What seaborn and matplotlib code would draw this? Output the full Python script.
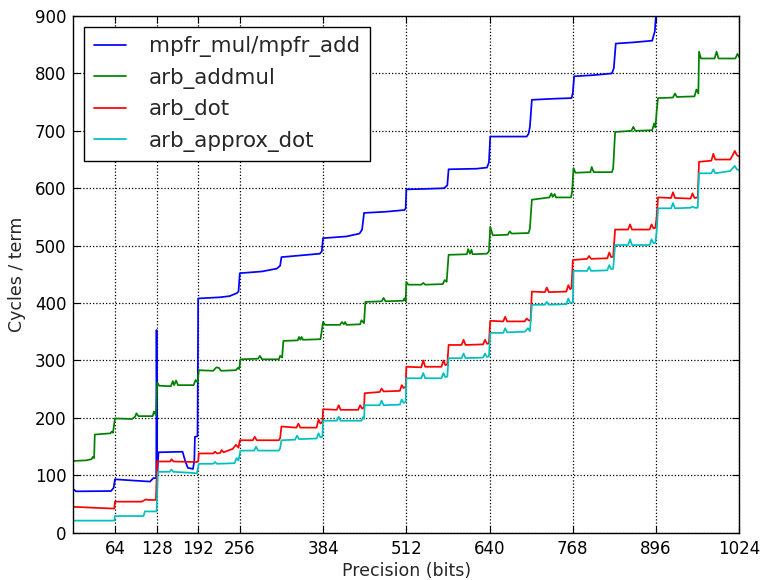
import pandas as pd
import matplotlib
matplotlib.use("Agg")
import matplotlib.pyplot as plt
import seaborn as sns

# --------------------- data ---------------------
# points along each curve: precision (bits) and cycles per term
mpfr_bits = [1, 4, 58, 62, 64, 90, 118, 123, 127.5, 128, 129, 131, 168, 172, 176, 184, 186,
             187, 191, 192, 225, 240, 251, 254, 256, 290, 313, 318, 320, 350, 379, 382, 384,
             420, 440, 444, 447, 480, 509, 511, 512, 545, 570, 575, 577, 620, 636, 639, 641,
             670, 697, 700, 702, 705, 740, 766, 768, 770, 800, 828, 831, 834, 860, 890, 894, 896]
mpfr_cycles = [75, 72, 72.5, 78, 93, 91, 89, 95, 95, 353, 100, 140, 141, 125, 113, 111, 125,
               167, 168, 408, 410, 412, 417, 420, 452, 455, 460, 465, 480, 483, 486, 490, 513,
               516, 521, 528, 557, 559, 562, 565, 598, 599, 600, 605, 633, 634, 636, 645, 690,
               690, 690, 695, 707, 754, 756, 757, 766, 795, 797, 800, 809, 852, 854, 857, 873, 905]

addmul_bits = [1, 20, 28, 30, 32, 33, 45, 57, 59, 61, 64, 90, 95, 97, 100, 122, 124, 127, 129,
               132, 150, 153, 155, 158, 161, 185, 188, 191, 193, 215, 220, 224, 227, 250, 253,
               255, 257, 284, 287, 290, 316, 318, 321, 323, 345, 347, 349, 351, 353, 380, 384,
               387, 410, 413, 416, 418, 420, 441, 443, 447, 449, 474, 477, 480, 507, 509, 511,
               512, 515, 535, 538, 541, 568, 571, 574, 577, 605, 607, 610, 612, 614, 636, 639,
               641, 645, 668, 671, 674, 700, 702, 705, 732, 735, 737, 740, 742, 765, 767, 769,
               772, 795, 797, 800, 828, 830, 833, 858, 861, 864, 890, 893, 895, 897, 899, 922,
               925, 928, 955, 958, 961, 962, 965, 986, 989, 992, 1018, 1021, 1024]
addmul_cycles = [125, 126, 128, 132, 130, 171, 172, 173, 176, 174, 199, 198, 202, 208, 203, 203,
                 211, 205, 262, 256, 255, 264, 257, 265, 257, 257, 266, 262, 283, 282, 288, 287,
                 282, 283, 287, 285, 302, 303, 308, 302, 302, 308, 305, 334, 335, 341, 336, 341,
                 336, 337, 367, 362, 362, 367, 363, 367, 362, 363, 370, 365, 402, 403, 409, 403,
                 404, 408, 403, 437, 432, 432, 435, 432, 433, 440, 437, 484, 485, 494, 486, 493,
                 485, 486, 490, 533, 518, 519, 525, 521, 522, 530, 580, 584, 591, 585, 590, 584,
                 584, 594, 635, 627, 628, 637, 628, 628, 634, 698, 700, 707, 700, 701, 713, 706,
                 736, 757, 758, 765, 759, 760, 772, 765, 838, 826, 826, 838, 826, 826, 834, 828]

dot_bits = [1, 40, 63, 64, 105, 110, 112, 115, 127, 129, 132, 149, 151, 154, 190, 192, 193, 215,
            218, 221, 226, 228, 231, 245, 250, 254, 256, 276, 279, 282, 316, 318, 320, 343, 346,
            349, 374, 377, 380, 383, 384, 405, 408, 411, 438, 441, 444, 447, 448, 471, 474, 477,
            502, 505, 508, 511, 512, 535, 538, 541, 566, 569, 572, 575, 577, 597, 600, 603, 630,
            633, 636, 639, 641, 661, 664, 667, 694, 697, 700, 703, 705, 725, 728, 731, 758, 761,
            764, 766, 768, 790, 793, 796, 821, 824, 827, 830, 833, 853, 856, 859, 886, 889, 892,
            895, 897, 899, 919, 922, 925, 949, 952, 955, 960, 962, 981, 984, 987, 1010, 1014,
            1017, 1020, 1024]
dot_cycles = [45, 43, 42, 54, 54, 57, 58, 57, 57, 125, 124, 124, 128, 124, 123, 124, 138, 138,
              141, 138, 139, 144, 140, 146, 153, 148, 161, 161, 167, 161, 161, 165, 185, 183, 190,
              183, 183, 197, 190, 193, 215, 214, 222, 214, 214, 222, 216, 218, 243, 245, 251, 246,
              247, 257, 252, 254, 289, 288, 300, 289, 289, 300, 292, 293, 327, 327, 336, 327, 328,
              336, 329, 330, 369, 368, 376, 368, 368, 373, 370, 369, 420, 419, 427, 419, 420, 431,
              424, 426, 475, 477, 482, 477, 478, 488, 480, 481, 528, 528, 537, 528, 528, 537, 530,
              531, 552, 584, 583, 593, 583, 582, 591, 583, 584, 646, 648, 660, 650, 650, 658, 665,
              658, 655]

approx_bits = [1, 63, 64, 108, 110, 128, 130, 148, 151, 154, 185, 190, 193, 215, 218, 221, 248,
               251, 254, 257, 278, 281, 284, 316, 318, 320, 341, 344, 347, 374, 377, 380, 383,
               384, 405, 408, 411, 443, 446, 447, 448, 471, 474, 477, 502, 505, 508, 511, 512,
               535, 538, 541, 566, 569, 572, 575, 577, 597, 600, 603, 630, 633, 636, 639, 641,
               661, 664, 667, 694, 699, 702, 705, 725, 728, 731, 758, 761, 764, 768, 769, 790,
               793, 796, 821, 824, 827, 830, 833, 853, 856, 859, 886, 889, 892, 895, 897, 899,
               919, 922, 925, 949, 952, 955, 960, 962, 981, 984, 987, 1010, 1017, 1020, 1024]
approx_cycles = [21, 21, 29, 29, 37, 37, 106, 106, 110, 106, 104, 103, 120, 120, 123, 120, 121,
                 130, 126, 143, 143, 150, 143, 143, 147, 161, 162, 169, 163, 164, 173, 166, 167,
                 195, 195, 202, 195, 195, 202, 198, 222, 222, 230, 222, 223, 232, 226, 228, 269,
                 269, 278, 269, 269, 278, 271, 272, 304, 304, 312, 304, 305, 312, 306, 307, 348,
                 348, 356, 349, 350, 356, 351, 397, 397, 402, 397, 398, 408, 400, 401, 456, 456,
                 463, 456, 457, 466, 459, 460, 501, 501, 511, 501, 501, 511, 504, 505, 527, 565,
                 565, 574, 565, 566, 568, 566, 566, 626, 626, 633, 626, 630, 639, 633, 631]

series_names = ["mpfr_mul/mpfr_add", "arb_addmul", "arb_dot", "arb_approx_dot"]
series_colors = ["#0000ff", "#008000", "#ff0000", "#00bfbf"]

x_ticks = [64, 128, 192, 256, 384, 512, 640, 768, 896, 1024]
y_ticks = [0, 100, 200, 300, 400, 500, 600, 700, 800, 900]

# long table for seaborn
frames = []
for name, bx, cy in zip(series_names,
                        [mpfr_bits, addmul_bits, dot_bits, approx_bits],
                        [mpfr_cycles, addmul_cycles, dot_cycles, approx_cycles]):
    frames.append(pd.DataFrame({"bits": bx, "cycles": cy, "series": name}))
df = pd.concat(frames, ignore_index=True)

# --------------------- style ---------------------
sns.set_style("white", {
    "axes.edgecolor": "black",
    "xtick.direction": "in",
    "ytick.direction": "in",
    "xtick.top": True,
    "ytick.right": True,
    "xtick.bottom": True,
    "ytick.left": True,
})
plt.rcParams["font.family"] = ["DejaVu Sans"]

fig = plt.figure(figsize=(7.66, 5.8), dpi=100)
ax = fig.add_axes([0.0957, 0.0816, 0.8695, 0.8908])

sns.lineplot(data=df, x="bits", y="cycles", hue="series", hue_order=series_names,
             palette=series_colors, estimator=None, sort=False, linewidth=1.25, ax=ax)

ax.set_xlim(0, 1024)
ax.set_ylim(0, 900)
ax.set_xticks(x_ticks)
ax.set_yticks(y_ticks)
ax.tick_params(axis="both", which="major", direction="in", length=5, width=0.8,
               labelsize=12, pad=5, colors="black", top=True, right=True)
for spine in ax.spines.values():
    spine.set_linewidth(1.0)
    spine.set_color("black")

ax.grid(True, color="black", linestyle=(0, (1, 1.6)), linewidth=0.9)
ax.set_xlabel("Precision (bits)", fontsize=12.5, labelpad=3)
ax.set_ylabel("Cycles / term", fontsize=12.5, labelpad=6)

leg = ax.legend(loc="upper left", fontsize=15.4, frameon=True, fancybox=False,
                edgecolor="black", framealpha=1.0, handlelength=1.5, handletextpad=1.1,
                labelspacing=0.49, borderpad=0.45, borderaxespad=0.5)
leg.get_frame().set_linewidth(1.0)
for line in leg.get_lines():
    line.set_linewidth(1.25)

fig.savefig("out.png", dpi=100)
